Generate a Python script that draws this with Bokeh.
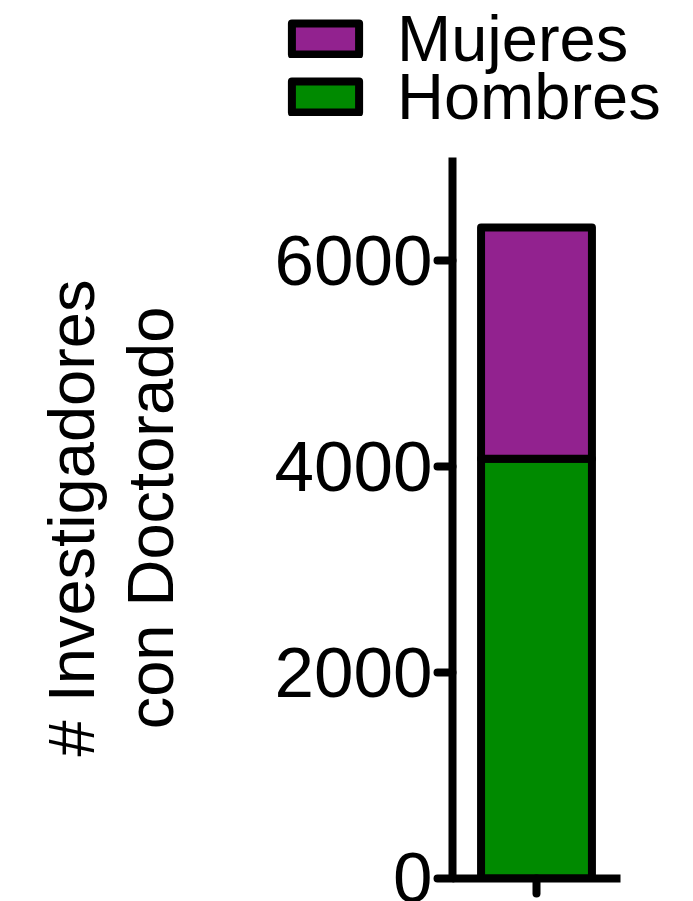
from bokeh.plotting import figure
from bokeh.layouts import column
from bokeh.models import (ColumnDataSource, FactorRange, Range1d, Legend, LegendItem,
                          FixedTicker)
from bokeh.embed import file_html
from bokeh.resources import INLINE

categories = ["Investigadores"]
hombres = [4075]
mujeres = [2245]
y_ticks = [0, 2000, 4000, 6000]
series_names = ["Hombres", "Mujeres"]
series_colors = ["#008a00", "#92228f"]
y_label = "# Investigadores\ncon Doctorado"

FONT = "Liberation Sans"
src = ColumnDataSource(dict(cat=categories, Hombres=hombres, Mujeres=mujeres))

# ---- legend strip (separate figure so the legend is not clipped) ----
lg = figure(x_range=Range1d(0, 1), y_range=Range1d(0, 1),
            width=693, height=157, output_backend="svg", toolbar_location=None,
            x_axis_location=None, y_axis_location=None, min_border=0)
lg.frame_align = False
lg.outline_line_color = None
lg.grid.visible = False
lrs = lg.vbar_stack(series_names, x="cat", width=0.66, source=src,
                    fill_color=series_colors, line_color="black",
                    line_width=8, line_join="round")

legend_style = dict(glyph_width=84, glyph_height=39, label_standoff=30,
                    spacing=0, padding=0, margin=0,
                    border_line_color=None, background_fill_alpha=0,
                    label_text_font=FONT, label_text_font_size="65px",
                    label_text_color="black")
leg_m = Legend(items=[LegendItem(label="Mujeres", renderers=[lrs[1]])],
               location=(283, 81), **legend_style)
leg_h = Legend(items=[LegendItem(label="Hombres", renderers=[lrs[0]])],
               location=(283, 23), **legend_style)
lg.add_layout(leg_m, "center")
lg.add_layout(leg_h, "center")

# ---- main chart ----
p = figure(x_range=FactorRange(factors=categories, range_padding=0),
           y_range=Range1d(0, 7000),
           width=693, height=744,
           output_backend="svg", toolbar_location=None,
           min_border_left=452, min_border_top=0,
           min_border_right=73, min_border_bottom=23)
p.frame_align = False

p.vbar_stack(series_names, x="cat", width=0.66, source=src,
             fill_color=series_colors, line_color="black",
             line_width=8, line_join="round")

p.outline_line_color = None
p.xgrid.visible = False
p.ygrid.visible = False

ya = p.yaxis[0]
ya.ticker = FixedTicker(ticks=y_ticks)
ya.axis_line_width = 8
ya.axis_line_color = "black"
ya.major_tick_line_width = 8
ya.major_tick_line_cap = "round"
ya.major_tick_out = 15
ya.major_tick_in = 0
ya.minor_tick_line_color = None
ya.major_label_text_font = FONT
ya.major_label_text_font_size = "71px"
ya.major_label_text_color = "black"
ya.major_label_standoff = 5
ya.axis_label = y_label
ya.axis_label_text_font = FONT
ya.axis_label_text_font_size = "65px"
ya.axis_label_text_font_style = "normal"
ya.axis_label_text_color = "black"
ya.axis_label_text_line_height = 1.07
ya.axis_label_standoff = 85

xa = p.xaxis[0]
xa.axis_line_width = 8
xa.axis_line_color = "black"
xa.major_tick_line_width = 8
xa.major_tick_line_cap = "round"
xa.major_tick_out = 15
xa.major_tick_in = 0
xa.major_label_text_font_size = "0px"
xa.major_label_standoff = 0

layout = column(lg, p, spacing=0)
open("out.html", "w").write(file_html(layout, INLINE))
